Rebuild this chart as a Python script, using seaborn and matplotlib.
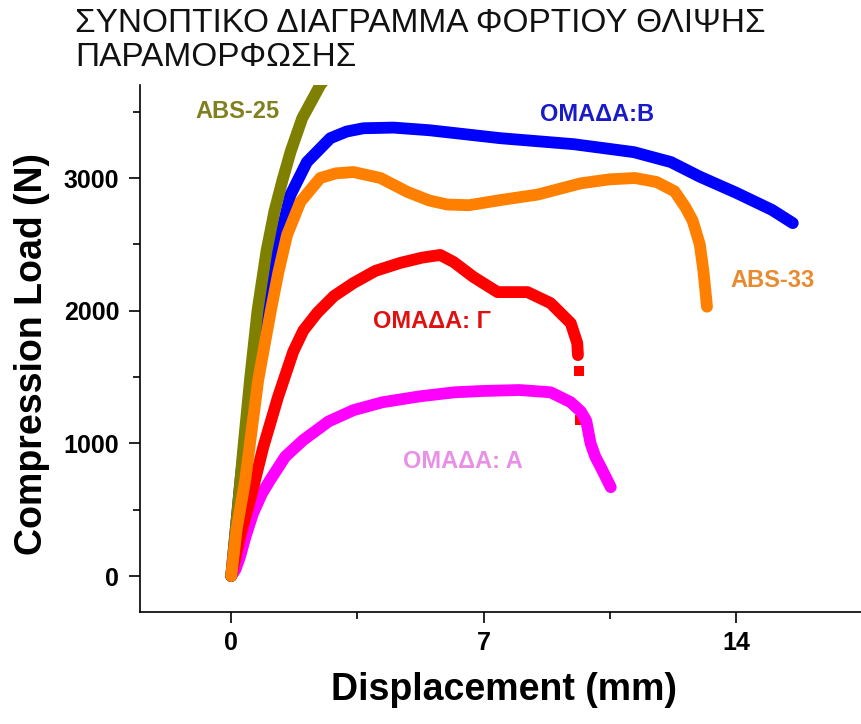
import matplotlib
matplotlib.use("Agg")
import matplotlib.pyplot as plt
from matplotlib.ticker import MultipleLocator
import seaborn as sns
import pandas as pd

# ---- data ----
abs25_x = [0, 0.18, 0.35, 0.53, 0.73, 0.98, 1.2, 1.42, 1.65, 1.97, 2.47, 2.75]
abs25_y = [0, 500, 1000, 1500, 2000, 2450, 2750, 2980, 3200, 3450, 3700, 3800]

grpB_x = [0, 0.25, 0.55, 0.9, 1.33, 1.64, 2.1, 2.75, 3.2, 3.67, 4.5, 5.5, 7.47, 9.5, 11.17, 12.2, 13.0, 14.0, 15.0, 15.58]
grpB_y = [0, 700, 1450, 2150, 2517, 2870, 3120, 3300, 3350, 3375, 3380, 3360, 3300, 3255, 3195, 3120, 3010, 2890, 2760, 2660]

abs33_x = [0, 0.15, 0.39, 0.75, 1.1, 1.31, 1.55, 1.92, 2.47, 2.9, 3.39, 4.14, 4.89, 5.5, 6.0, 6.6, 7.5, 8.5, 9.7, 10.5, 11.2, 11.8, 12.3, 12.6, 12.8, 13.0, 13.1, 13.2]
abs33_y = [0, 350, 724, 1477, 2000, 2290, 2570, 2820, 3000, 3035, 3045, 3000, 2895, 2830, 2800, 2795, 2835, 2875, 2960, 2990, 3000, 2970, 2900, 2780, 2680, 2500, 2300, 2030]

grpG_x = [0, 0.25, 0.55, 0.89, 1.3, 1.72, 2.0, 2.39, 2.85, 3.39, 4.0, 4.69, 5.3, 5.8, 6.17, 6.72, 7.39, 8.22, 8.86, 9.42, 9.6, 9.62]
grpG_y = [0, 300, 600, 972, 1350, 1690, 1850, 1985, 2110, 2208, 2300, 2360, 2400, 2420, 2367, 2254, 2140, 2140, 2057, 1906, 1756, 1665]
grpG_px = [9.64, 9.69]
grpG_py = [1545, 1176]

grpA_x = [0, 0.12, 0.25, 0.4, 0.61, 0.85, 1.08, 1.5, 2.0, 2.7, 3.39, 4.2, 5.25, 6.2, 7.0, 8.0, 8.86, 9.42, 9.7, 9.85, 9.97, 10.1, 10.25, 10.53]
grpA_y = [0, 50, 150, 300, 475, 620, 724, 900, 1025, 1165, 1250, 1310, 1355, 1385, 1395, 1402, 1385, 1310, 1240, 1170, 1000, 900, 822, 670]

x_ticks = [0, 7, 14]
y_ticks = [0, 1000, 2000, 3000]

series = [
    ("ΟΜΑΔΑ: Α", grpA_x, grpA_y, "#ff00ff"),
    ("ΟΜΑΔΑ: Γ", grpG_x, grpG_y, "#ff0000"),
    ("ΟΜΑΔΑ:Β", grpB_x, grpB_y, "#0000ff"),
    ("ABS-25", abs25_x, abs25_y, "#808000"),
    ("ABS-33", abs33_x, abs33_y, "#ff8000"),
]

sns.set_theme(style="ticks")
plt.rcParams["font.family"] = ["Liberation Sans", "DejaVu Sans"]

fig = plt.figure(figsize=(8.62, 7.24), dpi=100)
ax = fig.add_axes([0.1624, 0.1547, 0.8376, 0.7279])

for name, xs, ys, col in series:
    df = pd.DataFrame({"x": xs, "y": ys})
    sns.lineplot(data=df, x="x", y="y", sort=False, estimator=None, color=col,
                 linewidth=8.5, ax=ax, solid_capstyle="round", solid_joinstyle="round")

dfp = pd.DataFrame({"x": grpG_px, "y": grpG_py})
sns.scatterplot(data=dfp, x="x", y="y", marker="s", s=55, color="#ff0000",
                edgecolor="none", ax=ax, zorder=1)

ax.set_xlim(-2.53, 17.5)
ax.set_ylim(-271, 3701)
ax.set_xticks(x_ticks)
ax.set_yticks(y_ticks)
ax.xaxis.set_minor_locator(MultipleLocator(3.5))
ax.yaxis.set_minor_locator(MultipleLocator(500))
ax.tick_params(which="major", length=8, width=1.2, direction="out", labelsize=18, colors="black")
ax.tick_params(which="minor", length=5, width=1.2, direction="out", colors="black")
ax.tick_params(axis="x", which="major", pad=6)
ax.tick_params(axis="y", which="major", pad=7)
for lab in ax.get_xticklabels() + ax.get_yticklabels():
    lab.set_fontweight("bold")
ax.spines["top"].set_visible(False)
ax.spines["right"].set_visible(False)
for s in ("left", "bottom"):
    ax.spines[s].set_linewidth(1.2)
    ax.spines[s].set_color("black")

ax.set_xlabel("Displacement (mm)", fontsize=27, fontweight="bold", color="black")
ax.set_ylabel("Compression Load (N)", fontsize=27, fontweight="bold", color="black")
ax.xaxis.set_label_coords(0.504, -0.148)
ax.yaxis.set_label_coords(-0.15, 0.49)
ax.xaxis.label.set_va("center")
ax.yaxis.label.set_va("center")

fig.text(75 / 862, 1 - 24 / 724, "ΣΥΝΟΠΤΙΚΟ ΔΙΑΓΡΑΜΜΑ ΦΟΡΤΙΟΥ ΘΛΙΨΗΣ",
         fontsize=24, va="center", ha="left", color="#111111")
fig.text(75 / 862, 1 - 58 / 724, "ΠΑΡΑΜΟΡΦΩΣΗΣ",
         fontsize=24, va="center", ha="left", color="#111111")

lab_kw = dict(fontsize=17, fontweight="bold", ha="center", va="center")
ax.text(0.17, 3505, "ABS-25", color="#808020", **lab_kw)
ax.text(10.14, 3475, "ΟΜΑΔΑ:Β", color="#1a1ac8", **lab_kw)
ax.text(15.03, 2224, "ABS-33", color="#ea8a30", **lab_kw)
ax.text(5.56, 1915, "ΟΜΑΔΑ: Γ", color="#e01010", **lab_kw)
ax.text(6.42, 860, "ΟΜΑΔΑ: Α", color="#e890e8", **lab_kw)

fig.savefig("out.png", dpi=100)
